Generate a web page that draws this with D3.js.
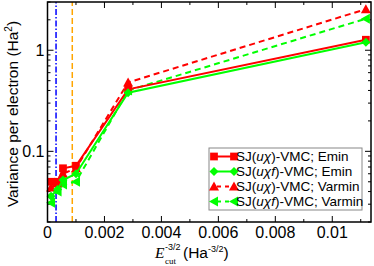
<!DOCTYPE html>
<html>
<head>
<meta charset="utf-8">
<script src="https://cdn.jsdelivr.net/npm/d3@7"></script>
<style>
  body { margin: 0; background: #fff; }
  svg { display: block; font-family: "Liberation Sans", Arial, sans-serif; }
</style>
</head>
<body>
<div id="chart"></div>
<script>
// Ecut^-3/2 values (Ha^-3/2) shared by all series
const xVals = [0.000125, 0.000354, 0.000544, 0.001, 0.00283, 0.01118];

// Variance per electron (Ha^2)
const redEmin = [0.050, 0.050, 0.068, 0.072, 0.41, 1.27];
const greenEmin = [0.036, 0.042, 0.052, 0.060, 0.38, 1.20];
const redVarmin = [0.044, 0.048, 0.060, 0.068, 0.48, 2.55];
const greenVarmin = [0.031, 0.040, 0.047, 0.050, 0.40, 2.05];

// reference cutoffs marked with vertical lines
const blueLineX = 0.0003;
const orangeLineX = 0.00087;

const xTickVals = [0, 0.002, 0.004, 0.006, 0.008, 0.01];
const xTickLabels = ['0', '0.002', '0.004', '0.006', '0.008', '0.01'];
const yTickVals = [0.1, 1];
const yTickLabels = ['0.1', '1'];

const W = 374, H = 266;
const margin = {top: 2, right: 3, bottom: 44, left: 47.5};

const svg = d3.select('#chart').append('svg')
    .attr('width', W)
    .attr('height', H);

const xScale = d3.scaleLinear()
    .domain([0, 0.01136])
    .range([margin.left, W - margin.right]);

const yScale = d3.scaleLog()
    .domain([0.02, 3])
    .range([H - margin.bottom, margin.top]);

const x0 = xScale.range()[0], x1 = xScale.range()[1];
const y0 = yScale.range()[0], y1 = yScale.range()[1];

// vertical marker lines
svg.append('line')
    .attr('x1', xScale(blueLineX)).attr('x2', xScale(blueLineX))
    .attr('y1', y0).attr('y2', y1)
    .style('stroke', '#0000ff').style('stroke-width', 1.5)
    .style('stroke-dasharray', '6,2,1.5,2');

svg.append('line')
    .attr('x1', xScale(orangeLineX)).attr('x2', xScale(orangeLineX))
    .attr('y1', y0).attr('y2', y1)
    .style('stroke', '#ffa500').style('stroke-width', 1.5)
    .style('stroke-dasharray', '6,3');

// ticks: minor and major, inside on all four sides
const xMinor = d3.range(0.001, 0.0114, 0.002);
const yMinor = [];
[0.01, 0.1, 1].forEach(dec => {
    for (let k = 2; k <= 9; k++) {
        const v = dec * k;
        if (v >= 0.02 && v <= 3) yMinor.push(v);
    }
});

const ticks = svg.append('g').style('stroke', '#000').style('stroke-width', 1);
xTickVals.forEach(v => {
    ticks.append('line').attr('x1', xScale(v)).attr('x2', xScale(v)).attr('y1', y0).attr('y2', y0 - 6);
    ticks.append('line').attr('x1', xScale(v)).attr('x2', xScale(v)).attr('y1', y1).attr('y2', y1 + 6);
});
xMinor.forEach(v => {
    ticks.append('line').attr('x1', xScale(v)).attr('x2', xScale(v)).attr('y1', y0).attr('y2', y0 - 3);
    ticks.append('line').attr('x1', xScale(v)).attr('x2', xScale(v)).attr('y1', y1).attr('y2', y1 + 3);
});
yTickVals.forEach(v => {
    ticks.append('line').attr('x1', x0).attr('x2', x0 + 6).attr('y1', yScale(v)).attr('y2', yScale(v));
    ticks.append('line').attr('x1', x1).attr('x2', x1 - 6).attr('y1', yScale(v)).attr('y2', yScale(v));
});
yMinor.forEach(v => {
    ticks.append('line').attr('x1', x0).attr('x2', x0 + 3).attr('y1', yScale(v)).attr('y2', yScale(v));
    ticks.append('line').attr('x1', x1).attr('x2', x1 - 3).attr('y1', yScale(v)).attr('y2', yScale(v));
});

// tick labels
xTickVals.forEach((v, i) => {
    svg.append('text')
        .attr('x', xScale(v)).attr('y', y0 + 15.5)
        .attr('text-anchor', 'middle')
        .style('font-size', '16px')
        .text(xTickLabels[i]);
});
yTickVals.forEach((v, i) => {
    svg.append('text')
        .attr('x', x0 - 3).attr('y', yScale(v)).attr('dy', '0.35em')
        .attr('text-anchor', 'end')
        .style('font-size', '16px')
        .text(yTickLabels[i]);
});

// axis titles
const yTitle = svg.append('text')
    .attr('transform', `translate(13, ${(y0 + y1) / 2 + 2}) rotate(-90)`)
    .attr('text-anchor', 'middle')
    .attr('dy', '0.35em')
    .style('font-size', '15.5px');
yTitle.append('tspan').text('Variance per electron (Ha');
yTitle.append('tspan').attr('dy', '-6').style('font-size', '10px').text('2');
yTitle.append('tspan').attr('dy', '6').text(')');

// x title: E with stacked subscript/superscript, then the unit
const serif = '"Liberation Serif", serif';
svg.append('text')
    .attr('x', 155).attr('y', 258)
    .style('font-family', serif).style('font-style', 'italic').style('font-size', '15.5px')
    .text('E');
svg.append('text')
    .attr('x', 165).attr('y', 264)
    .style('font-family', serif).style('font-size', '9px')
    .text('cut');
svg.append('text')
    .attr('x', 165).attr('y', 249.5)
    .style('font-size', '9px')
    .text('-3/2');
const unit = svg.append('text')
    .attr('x', 183).attr('y', 258)
    .style('font-size', '15.5px');
unit.append('tspan').text(' (Ha');
unit.append('tspan').attr('dy', -6).style('font-size', '9px').text('-3/2');
unit.append('tspan').attr('dy', 6).text(')');

// series
const series = [
    {values: redVarmin, color: '#ff0000', dash: '6,4', marker: 'up'},
    {values: greenVarmin, color: '#00ff00', dash: '6,4', marker: 'left'},
    {values: redEmin, color: '#ff0000', dash: null, marker: 'square'},
    {values: greenEmin, color: '#00ff00', dash: null, marker: 'diamond'}
];

const line = d3.line()
    .x(d => xScale(d[0]))
    .y(d => yScale(d[1]));

function markerPath(type) {
    if (type === 'square') return d3.symbol(d3.symbolSquare, 60)();
    if (type === 'diamond') return 'M0,-4.5L4.5,0L0,4.5L-4.5,0Z';
    if (type === 'up') return 'M0,-5L5,4L-5,4Z';
    if (type === 'left') return 'M-5,0L4,-5L4,5Z';
}

const plot = svg.append('g');
series.forEach(s => {
    const pts = xVals.map((x, i) => [x, s.values[i]]);
    plot.append('path')
        .datum(pts)
        .attr('d', line)
        .style('fill', 'none')
        .style('stroke', s.color)
        .style('stroke-width', 2)
        .style('stroke-dasharray', s.dash);
    plot.selectAll(null)
        .data(pts)
        .enter().append('path')
        .attr('transform', d => `translate(${xScale(d[0])},${yScale(d[1])})`)
        .attr('d', markerPath(s.marker))
        .style('fill', s.color);
});

// frame
svg.append('rect')
    .attr('x', x0).attr('y', y1)
    .attr('width', x1 - x0).attr('height', y0 - y1)
    .style('fill', 'none').style('stroke', '#000').style('stroke-width', 1.5);

// legend
const legendItems = [
    {label: ['SJ(', 'uχ', ')-VMC; Emin'], color: '#ff0000', dash: null, marker: 'square'},
    {label: ['SJ(', 'uχf', ')-VMC; Emin'], color: '#00ff00', dash: null, marker: 'diamond'},
    {label: ['SJ(', 'uχ', ')-VMC; Varmin'], color: '#ff0000', dash: '6,4', marker: 'up'},
    {label: ['SJ(', 'uχf', ')-VMC; Varmin'], color: '#00ff00', dash: '6,4', marker: 'left'}
];

const legend = svg.append('g').attr('transform', 'translate(209, 148)');
legend.append('rect')
    .attr('width', 153).attr('height', 62)
    .style('fill', '#fff').style('stroke', '#888').style('stroke-width', 1);

legendItems.forEach((item, i) => {
    const ly = 8.5 + i * 15;
    legend.append('line')
        .attr('x1', 5).attr('x2', 25)
        .attr('y1', ly).attr('y2', ly)
        .style('stroke', item.color).style('stroke-width', 2)
        .style('stroke-dasharray', item.dash ? '4,4' : null)
        .style('stroke-dashoffset', item.dash ? -3 : null);
    [5, 25].forEach(mx => {
        legend.append('path')
            .attr('transform', `translate(${mx},${ly})`)
            .attr('d', markerPath(item.marker))
            .style('fill', item.color);
    });
    const t = legend.append('text')
        .attr('x', 27).attr('y', ly).attr('dy', '0.35em')
        .style('font-size', '13.5px');
    t.append('tspan').text(item.label[0]);
    t.append('tspan').style('font-style', 'italic').text(item.label[1]);
    t.append('tspan').text(item.label[2]);
});
</script>
</body>
</html>
